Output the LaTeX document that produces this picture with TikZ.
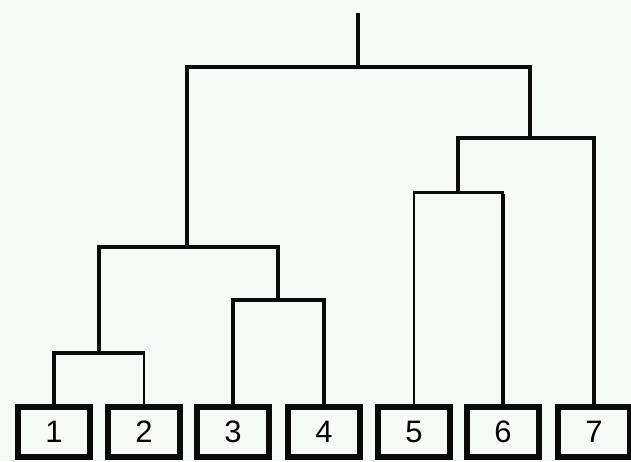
\documentclass[tikz,border=0pt]{standalone}
\usepackage{fontspec}
\setmainfont{Liberation Sans}
\definecolor{bgc}{RGB}{246,250,247}
\definecolor{ink}{RGB}{10,10,10}
\begin{document}
\begin{tikzpicture}[x=1pt,y=-1pt,
  leaf/.style={draw=ink,line width=6pt,rectangle,minimum width=72pt,minimum height=50pt,
    inner sep=0pt,outer sep=0pt,fill=bgc,font=\fontsize{31}{31}\selectfont},
  thk/.style={draw=ink,line width=4pt,line join=miter},
  thn/.style={draw=ink,line width=2pt,line join=miter},
  mdl/.style={draw=ink,line width=3pt,line join=miter}]
\useasboundingbox (0,0) rectangle (631,461);
\fill[bgc] (0,0) rectangle (631,461);
% leaves
\node[leaf] (n1) at (54,432) {1};
\node[leaf] (n2) at (144,432) {2};
\node[leaf] (n3) at (233,432) {3};
\node[leaf] (n4) at (324,432) {4};
\node[leaf] (n5) at (414,432) {5};
\node[leaf] (n6) at (503,432) {6};
\node[leaf] (n7) at (594,432) {7};
% merge points
\coordinate (j12) at (99,353);
\coordinate (j34) at (278,300);
\coordinate (j1234) at (187,247);
\coordinate (j56) at (458,192);
\coordinate (j567) at (530,138);
\coordinate (jr) at (358,67);
\coordinate (top) at (358,13);
% connectors
\draw[thk] (n1.north) |- (j12) -- (j12 -| n2.north) -- ++(1,0);
\draw[thn] (j12 -| n2.north) ++(0,-2) -- (n2.north);
\draw[thk] (n3.north) |- (j34) -| (n4.north);
\draw[thk] (j12) |- (j1234) -| (j34);
\draw[thn] (n5.north) -- (n5.north |- j56);
\draw[mdl] ([xshift=-1pt]n5.north |- j56) -- (j56) -- ([xshift=1pt]n6.north |- j56);
\draw[thk] ([yshift=-1.5pt]n6.north |- j56) -- (n6.north);
\draw[thk] (j56) |- (j567) -| (n7.north);
\draw[thk] (j1234) |- (jr) -| (j567);
\draw[thk] (jr) -- (top);
\end{tikzpicture}
\end{document}
